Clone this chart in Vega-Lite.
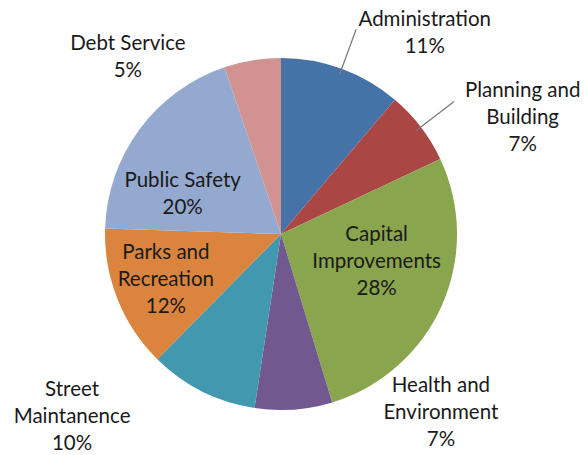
{
  "$schema": "https://vega.github.io/schema/vega-lite/v6.json",
  "width": 562,
  "height": 442,
  "autosize": "none",
  "padding": {"left": 0, "top": 13, "right": 24, "bottom": 0},
  "background": "white",
  "config": {"view": {"stroke": null}},
  "data": {
    "values": [
      {"cat": "Administration", "value": 11.2, "rank": 1, "label": "Administration\n11%"},
      {"cat": "Planning and Building", "value": 6.8, "rank": 2, "label": "Planning and\nBuilding\n7%"},
      {"cat": "Capital Improvements", "value": 27.3, "rank": 3, "label": "Capital\nImprovements\n28%"},
      {"cat": "Health and Environment", "value": 7.1, "rank": 4, "label": "Health and\nEnvironment\n7%"},
      {"cat": "Street Maintanence", "value": 10.0, "rank": 5, "label": "Street\nMaintanence\n10%"},
      {"cat": "Parks and Recreation", "value": 13.1, "rank": 6, "label": "Parks and\nRecreation\n12%"},
      {"cat": "Public Safety", "value": 19.3, "rank": 7, "label": "Public Safety\n20%"},
      {"cat": "Debt Service", "value": 5.2, "rank": 8, "label": "Debt Service\n5%"}
    ]
  },
  "transform": [
    {"stack": "value", "groupby": [], "sort": [{"field": "rank", "order": "ascending"}], "as": ["t0", "t1"]},
    {"fold": ["t0", "t1"], "as": ["edge", "ang"]},
    {"aggregate": [{"op": "mean", "field": "ang", "as": "mid"}], "groupby": ["cat", "label", "rank", "value", "t0", "t1"]}
  ],
  "layer": [
    {
      "mark": {"type": "arc", "radius": 176},
      "encoding": {
        "theta": {"field": "t0", "type": "quantitative", "scale": {"domain": [0, 100]}},
        "theta2": {"field": "t1"},
        "color": {
          "field": "cat",
          "type": "nominal",
          "legend": null,
          "scale": {
            "domain": ["Administration", "Planning and Building", "Capital Improvements", "Health and Environment", "Street Maintanence", "Parks and Recreation", "Public Safety", "Debt Service"],
            "range": ["#4572A7", "#AA4643", "#89A54E", "#71588F", "#4198AF", "#DB843D", "#93A9CF", "#D19392"]
          }
        }
      }
    },
    {
      "transform": [{"filter": {"field": "cat", "oneOf": ["Administration", "Planning and Building"]}}],
      "mark": {"type": "arc", "radius": 218, "radius2": 170, "stroke": "#7a7a7a", "strokeWidth": 1.3, "fillOpacity": 0},
      "encoding": {
        "theta": {"field": "mid", "type": "quantitative", "stack": null},
        "theta2": {"field": "mid"}
      }
    },
    {
      "transform": [{"filter": {"field": "cat", "equal": "Administration"}}],
      "mark": {"type": "text", "radius": 214, "dx": 70, "dy": -13.5, "lineBreak": "\n", "font": "Lato", "fontSize": 20.5, "lineHeight": 27, "color": "#1a1a1a", "align": "center", "baseline": "middle"},
      "encoding": {"theta": {"field": "mid", "type": "quantitative", "stack": null}, "text": {"field": "label"}}
    },
    {
      "transform": [{"filter": {"field": "cat", "equal": "Planning and Building"}}],
      "mark": {"type": "text", "radius": 191, "dx": 90, "dy": -27, "lineBreak": "\n", "font": "Lato", "fontSize": 20.5, "lineHeight": 27, "color": "#1a1a1a", "align": "center", "baseline": "middle"},
      "encoding": {"theta": {"field": "mid", "type": "quantitative", "stack": null}, "text": {"field": "label"}}
    },
    {
      "transform": [{"filter": {"field": "cat", "equal": "Capital Improvements"}}],
      "mark": {"type": "text", "radius": 86, "dx": 17, "dy": -34, "lineBreak": "\n", "font": "Lato", "fontSize": 20.5, "lineHeight": 27, "color": "#1a1a1a", "align": "center", "baseline": "middle"},
      "encoding": {"theta": {"field": "mid", "type": "quantitative", "stack": null}, "text": {"field": "label"}}
    },
    {
      "transform": [{"filter": {"field": "cat", "equal": "Health and Environment"}}],
      "mark": {"type": "text", "radius": 179, "dx": 147, "dy": -27, "lineBreak": "\n", "font": "Lato", "fontSize": 20.5, "lineHeight": 27, "color": "#1a1a1a", "align": "center", "baseline": "middle"},
      "encoding": {"theta": {"field": "mid", "type": "quantitative", "stack": null}, "text": {"field": "label"}}
    },
    {
      "transform": [{"filter": {"field": "cat", "equal": "Street Maintanence"}}],
      "mark": {"type": "text", "radius": 205, "dx": -117, "dy": -27, "lineBreak": "\n", "font": "Lato", "fontSize": 20.5, "lineHeight": 27, "color": "#1a1a1a", "align": "center", "baseline": "middle"},
      "encoding": {"theta": {"field": "mid", "type": "quantitative", "stack": null}, "text": {"field": "label"}}
    },
    {
      "transform": [{"filter": {"field": "cat", "equal": "Parks and Recreation"}}],
      "mark": {"type": "text", "radius": 124, "dx": 0, "dy": -27, "lineBreak": "\n", "font": "Lato", "fontSize": 20.5, "lineHeight": 27, "color": "#1a1a1a", "align": "center", "baseline": "middle"},
      "encoding": {"theta": {"field": "mid", "type": "quantitative", "stack": null}, "text": {"field": "label"}}
    },
    {
      "transform": [{"filter": {"field": "cat", "equal": "Public Safety"}}],
      "mark": {"type": "text", "radius": 105, "dx": -14, "dy": 9.5, "lineBreak": "\n", "font": "Lato", "fontSize": 20.5, "lineHeight": 27, "color": "#1a1a1a", "align": "center", "baseline": "middle"},
      "encoding": {"theta": {"field": "mid", "type": "quantitative", "stack": null}, "text": {"field": "label"}}
    },
    {
      "transform": [{"filter": {"field": "cat", "equal": "Debt Service"}}],
      "mark": {"type": "text", "radius": 179, "dx": -124, "dy": -13.5, "lineBreak": "\n", "font": "Lato", "fontSize": 20.5, "lineHeight": 27, "color": "#1a1a1a", "align": "center", "baseline": "middle"},
      "encoding": {"theta": {"field": "mid", "type": "quantitative", "stack": null}, "text": {"field": "label"}}
    }
  ]
}
